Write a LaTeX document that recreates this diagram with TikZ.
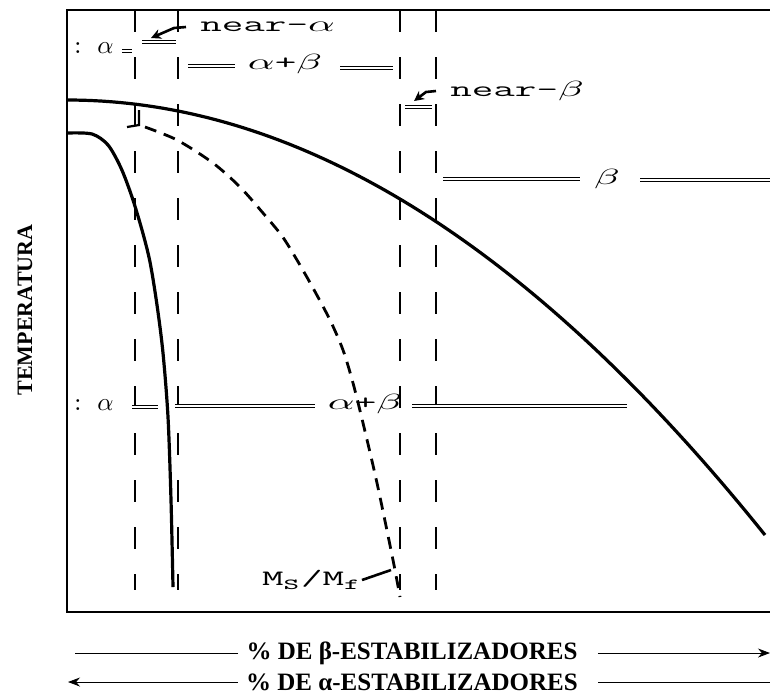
\documentclass[tikz,border=0pt]{standalone}
\usepackage{fontspec}
\setmainfont{Liberation Serif}
\usepackage{graphicx}
\usepackage{tikz}
\usetikzlibrary{arrows.meta,positioning}
\newcommand{\wide}[1]{\scalebox{1.9}[1]{#1}}

\begin{document}
\begin{tikzpicture}[x=0.5pt,y=-0.5pt,
  frame/.style={line width=1.2pt},
  curve/.style={line width=1.6pt},
  guide/.style={line width=0.9pt,dash pattern=on 11pt off 12.5pt},
  mscurve/.style={line width=1.4pt,dash pattern=on 6pt off 4pt},
  dbl/.style={double,double distance=1.3pt,line width=0.55pt},
  tag/.style={font=\fontsize{11}{13}\selectfont\ttfamily,inner sep=0pt},
  axis/.style={font=\fontsize{12.5}{14}\selectfont\bfseries,inner sep=0pt},
  pointer/.style={line width=1.3pt,-{Stealth[length=5pt,width=5pt]}}]
  \useasboundingbox (0,0) rectangle (770,693);
  \draw[frame] (772,10) -- (67,10) -- (67,612) -- (772,612);
  \foreach \gx in {135,178,400,436}
    \draw[guide] (\gx,10) -- (\gx,590);
  \draw[curve] plot[domain=67:765,samples=80] (\x,{100+435*((\x-67)/698)^2});
  \draw[curve] plot[smooth] coordinates {(67,133) (92,134) (108,145) (121,168)
    (132,197) (142,230) (150,262) (157,305) (163,353) (168,417) (171,500)
    (173,587)};
  \draw[mscurve] plot[smooth] coordinates {(145,127) (177,140) (213,163)
    (240,187) (263,213) (282,236) (297,260) (313,288) (330,320) (343,350)
    (353,383) (363,423) (377,483) (393,560) (400,597)};
  \draw[line width=1.1pt] (139,110) -- (139,125) -- (127,127);
  % upper row
  \node[tag,anchor=west] (colA) at (71,48) {\scalebox{1.15}{:~$\alpha$}};
  \draw[dbl] (122,51) -- (132,51);
  \draw[dbl] (142,42) -- (176,42);
  \coordinate (nearAtip) at (151,38);
  \node[tag,anchor=west,inner xsep=7pt] (nearA) at (186,27) {\wide{near-$\alpha$}};
  \draw[pointer] (nearA.west) -- ++(-12,1) -- (nearAtip);
  \draw[dbl] (188,66) -- (235,66);
  \node[tag] (abTop) at (285,64) {\wide{$\alpha$+$\beta$}};
  \draw[dbl] (340,68) -- (393,68);
  \draw[dbl] (405,107) -- (432,107);
  \coordinate (nearBtip) at (414,101);
  \node[tag,anchor=west,inner xsep=7pt] (nearB) at (436,91) {\wide{near-$\beta$}};
  \draw[pointer] (nearB.west) -- ++(-10,1) -- (nearBtip);
  \draw[dbl] (443,179) -- (580,179);
  \node[tag] (bRow) at (607,179) {\wide{$\beta$}};
  \draw[dbl] (640,180) -- (772,180);
  % lower row
  \node[tag,anchor=west] (colB) at (71,405) {\scalebox{1.15}{:~$\alpha$}};
  \draw[dbl] (132,407) -- (158,407);
  \draw[dbl] (175,406) -- (315,406);
  \node[tag] (abLow) at (365,404) {\wide{$\alpha$+$\beta$}};
  \draw[dbl] (412,406) -- (627,406);
  % martensite
  \node[tag,anchor=east] (ms) at (362,580) {\wide{M\textsubscript{S}/M\textsubscript{f}}};
  \coordinate (msEnd) at (391,570);
  \draw[line width=1.3pt] (ms.east) -- (msEnd);
  % axes
  \node[axis,font=\fontsize{11}{13}\selectfont\bfseries,rotate=90] (temp) at (25,310) {TEMPERATURA};
  \node[axis] (betaSt) at (412,653) {\% DE β-ESTABILIZADORES};
  \node[axis] (alphaSt) at (412,682) {\% DE α-ESTABILIZADORES};
  \coordinate (b1l) at (75,653);
  \coordinate (b1r) at (770,653);
  \coordinate (b2l) at (68,682);
  \coordinate (b2r) at (770,682);
  \draw ([xshift=-4pt]betaSt.west) -- (b1l);
  \draw[-{Stealth[length=6pt]}] ([xshift=10pt]betaSt.east) -- (b1r);
  \draw[-{Stealth[length=6pt]}] ([xshift=-4pt]alphaSt.west) -- (b2l);
  \draw ([xshift=10pt]alphaSt.east) -- (b2r);
\end{tikzpicture}
\end{document}
